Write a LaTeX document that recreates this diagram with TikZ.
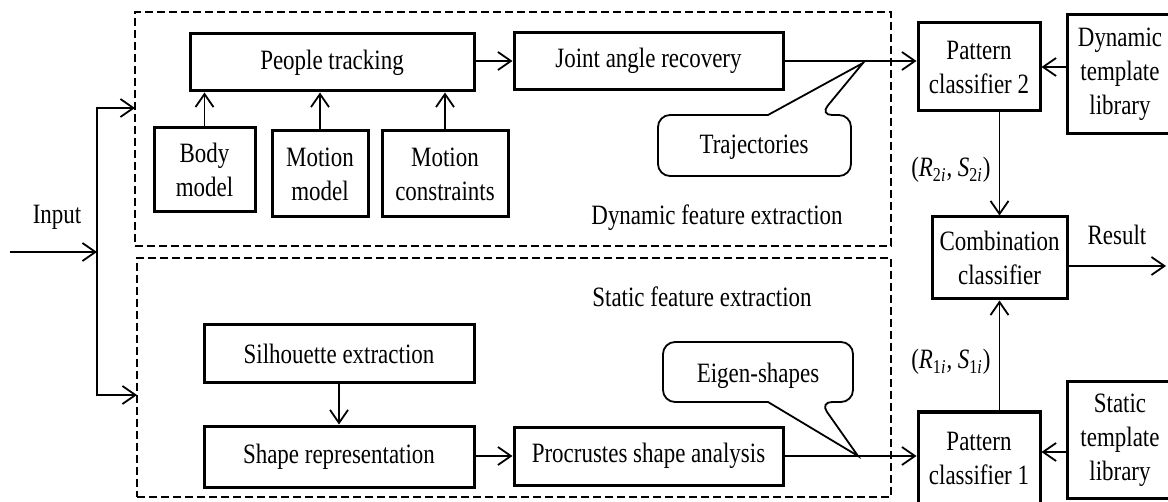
\documentclass[tikz,border=0pt]{standalone}
\usepackage{fontspec}
\setmainfont{Liberation Serif}[FakeStretch=0.82]
\usetikzlibrary{arrows.meta}
\tikzset{
  box/.style={draw, line width=1.5pt, inner sep=0pt, align=center},
  arr/.style={line width=0.75pt, -{Straight Barb[length=6.5pt,width=9pt,line width=0.9pt]}},
  region/.style={draw, dash pattern=on 4pt off 2pt, line width=1.2pt, inner sep=0pt},
  lbl/.style={inner sep=1pt},
  bubble/.style={line width=0.9pt, rounded corners=6pt}
}
\begin{document}
\begin{tikzpicture}[x=0.5pt,y=-0.5pt,font=\fontsize{14}{17}\selectfont]
\useasboundingbox (0,0) rectangle (1168,502);
% regions
\node[region, minimum width=378pt, minimum height=117pt] (dyn) at (513,129) {};
\node[region, minimum width=377pt, minimum height=119.5pt] (stat) at (514,377.5) {};
% dynamic part
\node[box, minimum width=142pt, minimum height=28.5pt] (pt) at (332,62.5) {People tracking};
\node[box, minimum width=134.5pt, minimum height=28.5pt] (jar) at (648.5,61) {Joint angle recovery};
\node[box, minimum width=50.5pt, minimum height=42pt] (body) at (204.5,170) {Body\\model};
\node[box, minimum width=48pt, minimum height=43pt] (mm) at (320,174) {Motion\\model};
\node[box, minimum width=63pt, minimum height=43pt] (mc) at (445,174) {Motion\\constraints};
\node[lbl] (dynlbl) at (717,218) {Dynamic feature extraction};
% static part
\node[box, minimum width=135pt, minimum height=29pt] (se) at (339,354) {Silhouette extraction};
\node[box, minimum width=135pt, minimum height=30.5pt] (sr) at (339,456.5) {Shape representation};
\node[box, minimum width=134.5pt, minimum height=29pt] (pa) at (648.5,456) {Procrustes shape analysis};
\node[lbl] (statlbl) at (702,297) {Static feature extraction};
% classifiers
\node[box, minimum width=61pt, minimum height=44pt] (pc2) at (979,67) {Pattern\\classifier 2};
\node[box, minimum width=53pt, minimum height=59.5pt] (dtl) at (1120,74.5) {Dynamic\\template\\library};
\node[box, minimum width=67.5pt, minimum height=41pt] (cc) at (999.5,258) {Combination\\classifier};
\node[box, minimum width=61pt, minimum height=46pt] (pc1) at (979,458) {Pattern\\classifier 1};
\node[box, minimum width=53pt, minimum height=58pt] (stl) at (1120,440) {Static\\template\\library};
% labels
\node[lbl] (inlbl) at (57,217) {Input};
\node[lbl] (reslbl) at (1117,235) {Result};
\node[lbl, anchor=east] (r2) at (993,170) {(\textit{R}\textsubscript{2\textit{i}}, \textit{S}\textsubscript{2\textit{i}})};
\node[lbl, anchor=east] (r1) at (993,362) {(\textit{R}\textsubscript{1\textit{i}}, \textit{S}\textsubscript{1\textit{i}})};
% coordinates
\coordinate (in) at (10,252);
\coordinate (split) at (97,252);
\coordinate (dynin) at (135,108);
\coordinate (statin) at (137,395);
\coordinate (out) at (1166,266);
\coordinate (ttip) at (863,63);
\coordinate (etip) at (858,456);
% input connectors
\draw[arr] (in) -- (split);
\draw[arr] (split) |- (dynin);
\draw[arr] (split) |- (statin);
% dynamic connectors
\draw[arr] (body.north) -- (body.north |- pt.south);
\draw[arr] (mm.north) -- (mm.north |- pt.south);
\draw[arr] (mc.north) -- (mc.north |- pt.south);
\draw[arr] (pt.east |- jar.east) -- (jar.west);
\draw[arr] (jar.east) -- (jar.east -| pc2.west);
\draw[arr] (pc2.east -| dtl.west) -- (pc2.east);
% static connectors
\draw[arr] (se.south) -- (sr.north);
\draw[arr] (sr.east |- pa.west) -- (pa.west);
\draw[arr] (pa.east) -- (pa.east -| pc1.west);
\draw[arr] (stl.west |- 0,452) -- (pc1.east |- 0,452);
% combination
\draw[arr] (cc.north |- pc2.south) -- (cc.north);
\draw[arr] (cc.south |- pc1.north) -- (cc.south);
\draw[arr] (cc.east |- out) -- (out);
% callouts
\node[lbl] (traj) at (754,147) {Trajectories};
\draw[bubble] (768,115) -- (658,115) -- (658,176) -- (851,176) -- (851,115) -- (820,115) [sharp corners] -- (ttip) -- cycle;
\node[lbl] (eig) at (758,376) {Eigen-shapes};
\draw[bubble] (768,402) -- (663,402) -- (663,342) -- (853,342) -- (853,402) -- (820,402) [sharp corners] -- (etip) -- cycle;
\end{tikzpicture}
\end{document}
